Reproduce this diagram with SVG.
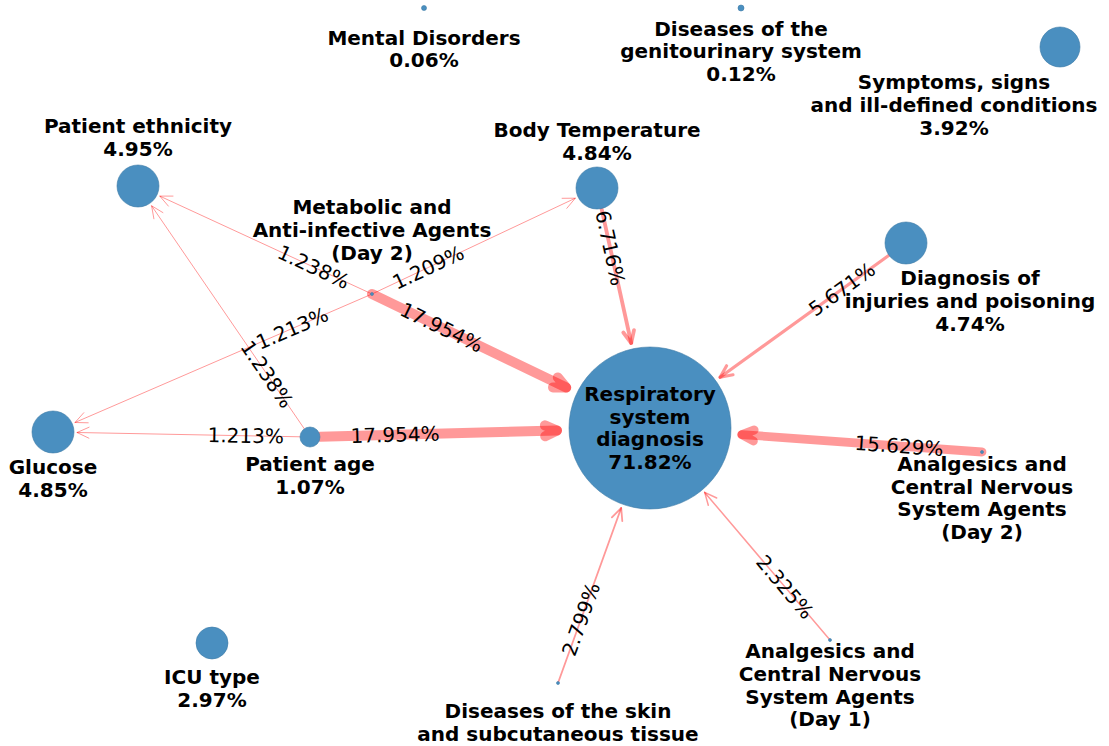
<svg xmlns="http://www.w3.org/2000/svg" width="1109" height="746" viewBox="0 0 1109 746">
<style>
.sh{fill:none;stroke:#ff0000;stroke-opacity:0.4;stroke-linecap:round;stroke-linejoin:round}
.nd{fill:#4a8fc0;stroke:#3d7aa6;stroke-width:0.6}
.lb{font-family:"DejaVu Sans",sans-serif;font-weight:bold;font-size:20px;text-anchor:middle;fill:#000}
.el{font-family:"DejaVu Sans",sans-serif;font-size:20px;text-anchor:middle;dominant-baseline:central;fill:#000}
</style>
<rect width="1109" height="746" fill="#fff"/>
<g id="connectors">
  <g id="e1" style="stroke-width:10"><path class="sh" d="M372,294 L566.2,387.6"/><path class="sh" d="M553,387.4 L566.2,387.6 L557.8,377.4"/></g>
  <g id="e2" style="stroke-width:10"><path class="sh" d="M320,436.7 L557,430.5"/><path class="sh" d="M545.2,436.3 L557,430.5 L544.9,425.3"/></g>
  <g id="e3" style="stroke-width:8.8"><path class="sh" d="M982,452 L741.8,434.6"/><path class="sh" d="M754.2,430 L741.8,434.6 L753.4,441"/></g>
  <g id="e4" style="stroke-width:3.8"><path class="sh" d="M601.5,208.5 L631.2,343"/><path class="sh" d="M623.3,332.5 L631.2,343 L634,330.1"/></g>
  <g id="e5" style="stroke-width:3.2"><path class="sh" d="M889,255.3 L720.1,377.3"/><path class="sh" d="M726.6,365.8 L720.1,377.3 L733,374.8"/></g>
  <g id="e6" style="stroke-width:1.8"><path class="sh" d="M558,683 L621.2,508"/><path class="sh" d="M622.3,521.2 L621.2,508 L611.9,517.4"/></g>
  <g id="e7" style="stroke-width:1.5"><path class="sh" d="M830,640 L704.7,492.4"/><path class="sh" d="M716.7,498 L704.7,492.4 L708.3,505.2"/></g>
  <g id="e8" style="stroke-width:1"><path class="sh" d="M372,294 L159.8,196.1"/><path class="sh" d="M173,196.1 L159.8,196.1 L168.4,206.1"/></g>
  <g id="e9" style="stroke-width:1"><path class="sh" d="M304.3,428.8 L151.6,205.8"/><path class="sh" d="M162.9,212.6 L151.6,205.8 L153.9,218.8"/></g>
  <g id="e10" style="stroke-width:1"><path class="sh" d="M372,294 L575.3,198.2"/><path class="sh" d="M566.8,208.3 L575.3,198.2 L562.1,198.3"/></g>
  <g id="e11" style="stroke-width:1"><path class="sh" d="M372,294 L75,422.5"/><path class="sh" d="M83.8,412.7 L75,422.5 L88.2,422.8"/></g>
  <g id="e12" style="stroke-width:1"><path class="sh" d="M300,436.8 L77,432.5"/><path class="sh" d="M89.1,427.2 L77,432.5 L88.9,438.2"/></g>
</g>
<g id="n-respiratory"><circle class="nd" cx="650" cy="428" r="81"/>
  <text class="lb"><tspan x="650" y="401">Respiratory</tspan><tspan x="650" y="424">system</tspan><tspan x="650" y="446">diagnosis</tspan><tspan x="650" y="469">71.82%</tspan></text></g>
<g id="n-mental"><circle class="nd" cx="424" cy="8" r="2.5"/>
  <text class="lb"><tspan x="424" y="45">Mental Disorders</tspan><tspan x="424" y="67">0.06%</tspan></text></g>
<g id="n-genito"><circle class="nd" cx="741" cy="8" r="3"/>
  <text class="lb"><tspan x="741" y="36">Diseases of the</tspan><tspan x="741" y="58">genitourinary system</tspan><tspan x="741" y="81">0.12%</tspan></text></g>
<g id="n-symptoms"><circle class="nd" cx="1060" cy="47" r="20"/>
  <text class="lb"><tspan x="954" y="89">Symptoms, signs</tspan><tspan x="954" y="112">and ill-defined conditions</tspan><tspan x="954" y="135">3.92%</tspan></text></g>
<g id="n-ethnicity"><circle class="nd" cx="138" cy="186" r="21"/>
  <text class="lb"><tspan x="138" y="133">Patient ethnicity</tspan><tspan x="138" y="156">4.95%</tspan></text></g>
<g id="n-bodytemp"><circle class="nd" cx="597" cy="188" r="21"/>
  <text class="lb"><tspan x="597" y="137">Body Temperature</tspan><tspan x="597" y="160">4.84%</tspan></text></g>
<g id="n-metabolic"><circle class="nd" cx="372" cy="294" r="1.5"/>
  <text class="lb"><tspan x="372" y="214">Metabolic and</tspan><tspan x="372" y="237">Anti-infective Agents</tspan><tspan x="372" y="260">(Day 2)</tspan></text></g>
<g id="n-injuries"><circle class="nd" cx="906" cy="243" r="21"/>
  <text class="lb"><tspan x="970" y="285">Diagnosis of</tspan><tspan x="970" y="308">injuries and poisoning</tspan><tspan x="970" y="331">4.74%</tspan></text></g>
<g id="n-glucose"><circle class="nd" cx="53" cy="432" r="21"/>
  <text class="lb"><tspan x="53" y="474">Glucose</tspan><tspan x="53" y="497">4.85%</tspan></text></g>
<g id="n-age"><circle class="nd" cx="310" cy="437" r="10"/>
  <text class="lb"><tspan x="310" y="471">Patient age</tspan><tspan x="310" y="494">1.07%</tspan></text></g>
<g id="n-analg2"><circle class="nd" cx="982" cy="452" r="1.5"/>
  <text class="lb"><tspan x="982" y="471">Analgesics and</tspan><tspan x="982" y="494">Central Nervous</tspan><tspan x="982" y="516">System Agents</tspan><tspan x="982" y="539">(Day 2)</tspan></text></g>
<g id="n-analg1"><circle class="nd" cx="830" cy="640" r="1.5"/>
  <text class="lb"><tspan x="830" y="658">Analgesics and</tspan><tspan x="830" y="681">Central Nervous</tspan><tspan x="830" y="704">System Agents</tspan><tspan x="830" y="726">(Day 1)</tspan></text></g>
<g id="n-skin"><circle class="nd" cx="558" cy="683" r="1.5"/>
  <text class="lb"><tspan x="558" y="718">Diseases of the skin</tspan><tspan x="558" y="741">and subcutaneous tissue</tspan></text></g>
<g id="n-icu"><circle class="nd" cx="212" cy="643" r="16"/>
  <text class="lb"><tspan x="212" y="684">ICU type</tspan><tspan x="212" y="707">2.97%</tspan></text></g>
<g id="edge-labels">
  <text class="el" transform="translate(441.5,327.5) rotate(25.7)">17.954%</text>
  <text class="el" transform="translate(395,434.75) rotate(-1.5)">17.954%</text>
  <text class="el" transform="translate(899,446) rotate(4.1)">15.629%</text>
  <text class="el" transform="translate(610.25,248) rotate(77.5)">6.716%</text>
  <text class="el" transform="translate(842,289.25) rotate(-35.9)">5.671%</text>
  <text class="el" transform="translate(581,619.25) rotate(-70.2)">2.799%</text>
  <text class="el" transform="translate(785,587) rotate(49.7)">2.325%</text>
  <text class="el" transform="translate(313.5,267) rotate(24.8)">1.238%</text>
  <text class="el" transform="translate(267,374.25) rotate(55.6)">1.238%</text>
  <text class="el" transform="translate(428.25,267.5) rotate(-25.2)">1.209%</text>
  <text class="el" transform="translate(292.25,328.5) rotate(-23.4)">1.213%</text>
  <text class="el" transform="translate(245.75,435.75) rotate(1.1)">1.213%</text>
</g>
</svg>
